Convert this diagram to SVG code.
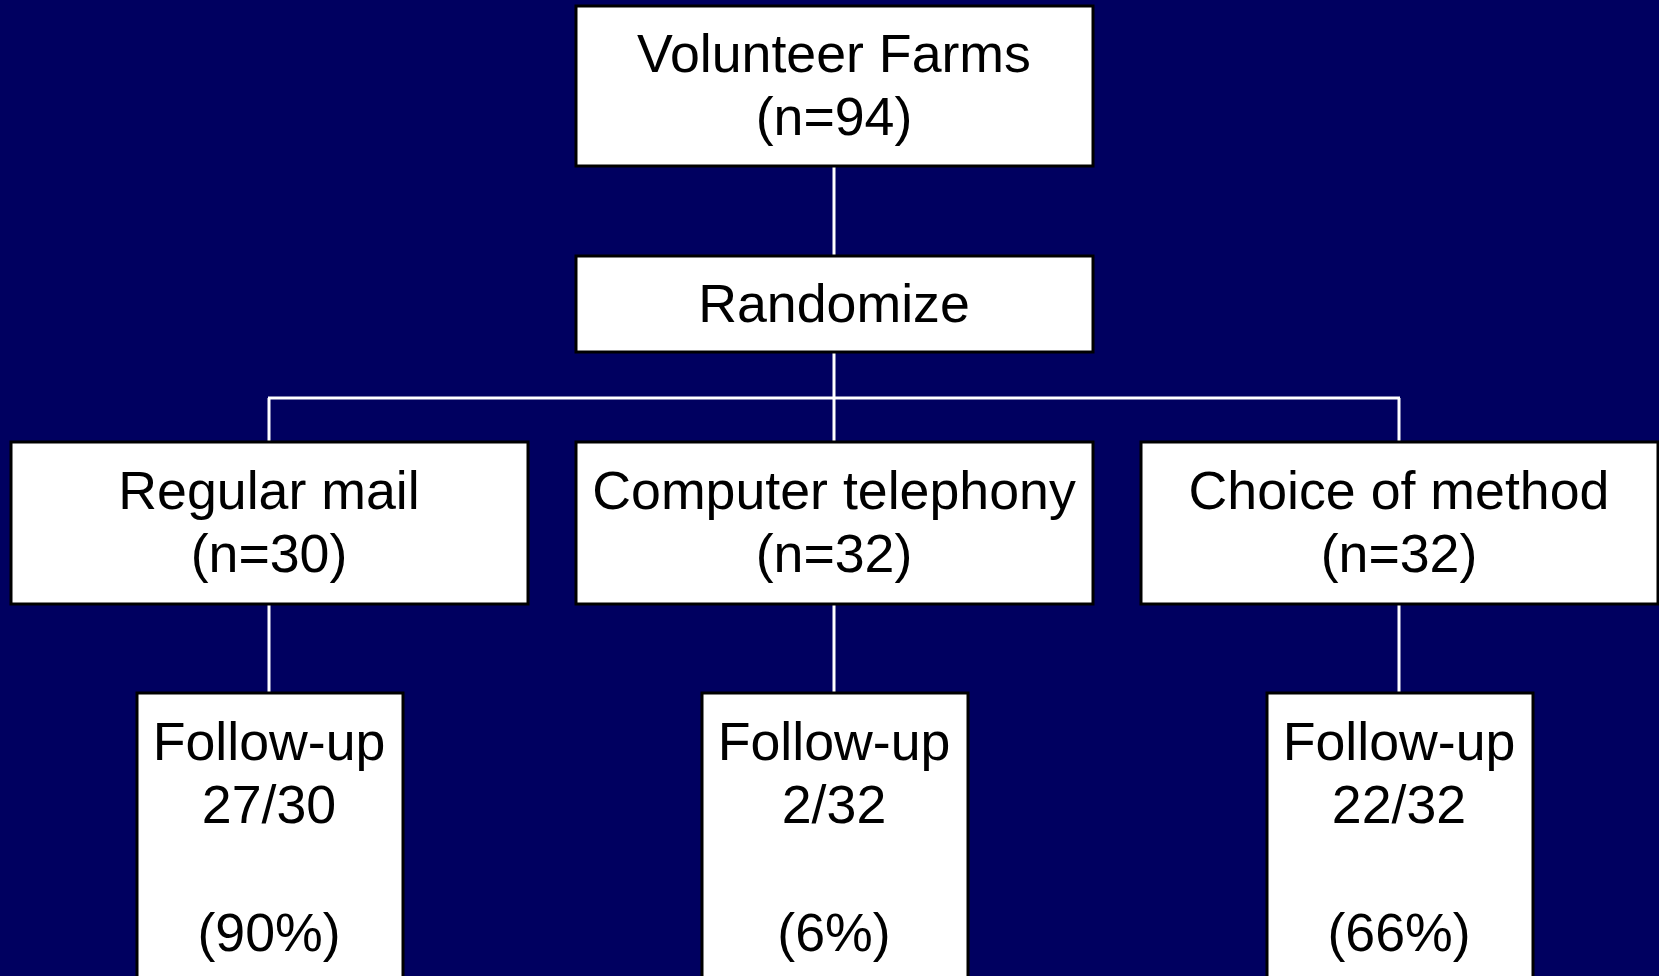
<svg xmlns="http://www.w3.org/2000/svg" width="1659" height="976" viewBox="0 0 1659 976">
<style>
.box{fill:#ffffff;stroke:#000000;stroke-width:3}
.lbl{font-family:"Liberation Sans",Arial,sans-serif;font-size:53.7px;fill:#000000;text-anchor:middle}
.conn{stroke:#ffffff;stroke-width:3;fill:none}
</style>
<rect x="0" y="0" width="1659" height="976" fill="#000060"/>
<g id="connectors">
<line class="conn" x1="834" y1="167" x2="834" y2="255"/>
<line class="conn" x1="834" y1="353" x2="834" y2="441"/>
<line class="conn" x1="268" y1="398" x2="1400" y2="398"/>
<line class="conn" x1="269" y1="398" x2="269" y2="441"/>
<line class="conn" x1="1399" y1="398" x2="1399" y2="441"/>
<line class="conn" x1="269" y1="605" x2="269" y2="692"/>
<line class="conn" x1="834" y1="605" x2="834" y2="692"/>
<line class="conn" x1="1399" y1="605" x2="1399" y2="692"/>
</g>
<g id="volunteer">
<rect class="box" x="576" y="6" width="517" height="160"/>
<text class="lbl" x="834" y="72">Volunteer Farms</text>
<text class="lbl" x="834" y="135">(n=94)</text>
</g>
<g id="randomize">
<rect class="box" x="576" y="256" width="517" height="96"/>
<text class="lbl" x="834" y="322">Randomize</text>
</g>
<g id="mail">
<rect class="box" x="11" y="442" width="517" height="162"/>
<text class="lbl" x="269" y="509">Regular mail</text>
<text class="lbl" x="269" y="572">(n=30)</text>
</g>
<g id="telephony">
<rect class="box" x="576" y="442" width="517" height="162"/>
<text class="lbl" x="834" y="509">Computer telephony</text>
<text class="lbl" x="834" y="572">(n=32)</text>
</g>
<g id="choice">
<rect class="box" x="1141" y="442" width="517" height="162"/>
<text class="lbl" x="1399" y="509">Choice of method</text>
<text class="lbl" x="1399" y="572">(n=32)</text>
</g>
<g id="followup-mail">
<rect class="box" x="137" y="693" width="266" height="300"/>
<text class="lbl" x="269" y="760">Follow-up</text>
<text class="lbl" x="269" y="823">27/30</text>
<text class="lbl" x="269" y="951">(90%)</text>
</g>
<g id="followup-telephony">
<rect class="box" x="702" y="693" width="266" height="300"/>
<text class="lbl" x="834" y="760">Follow-up</text>
<text class="lbl" x="834" y="823">2/32</text>
<text class="lbl" x="834" y="951">(6%)</text>
</g>
<g id="followup-choice">
<rect class="box" x="1267" y="693" width="266" height="300"/>
<text class="lbl" x="1399" y="760">Follow-up</text>
<text class="lbl" x="1399" y="823">22/32</text>
<text class="lbl" x="1399" y="951">(66%)</text>
</g>
</svg>
